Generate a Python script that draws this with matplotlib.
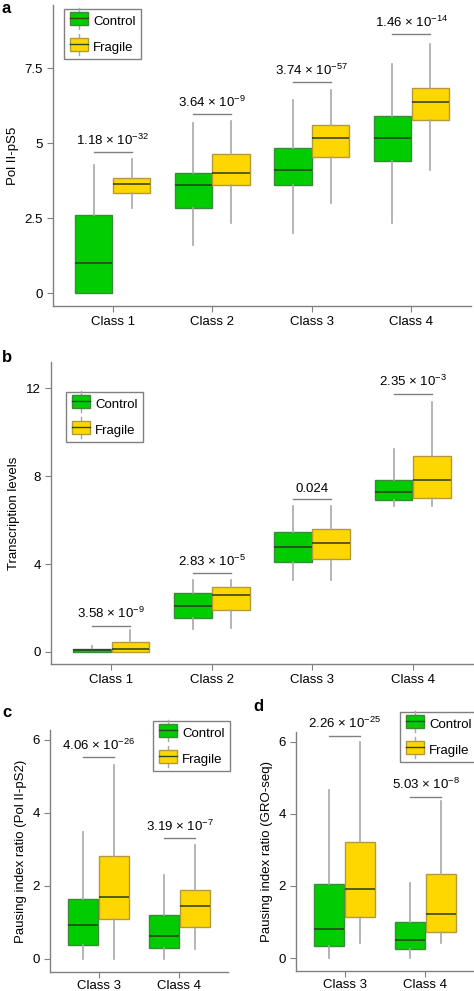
import matplotlib
matplotlib.use("Agg")
import matplotlib.pyplot as plt
from matplotlib.patches import Rectangle, Patch
from matplotlib.lines import Line2D
from matplotlib.legend_handler import HandlerBase

plt.rcParams['font.family'] = ['Liberation Sans', 'DejaVu Sans']
plt.rcParams['mathtext.fontset'] = 'custom'
plt.rcParams['mathtext.rm'] = 'Liberation Sans'
plt.rcParams['mathtext.it'] = 'Liberation Sans:italic'
plt.rcParams['font.size'] = 9.5

W, H = 474, 991

# box stats: (whisker low, q1, median, q3, whisker high)
classes_a = ["Class 1", "Class 2", "Class 3", "Class 4"]
ctrl_a = [(0.0, 0.0, 1.0, 2.6, 4.27), (1.6, 2.83, 3.6, 4.0, 5.67),
          (2.0, 3.6, 4.1, 4.83, 6.43), (2.33, 4.4, 5.17, 5.9, 7.63)]
frag_a = [(2.83, 3.33, 3.62, 3.83, 4.47), (2.33, 3.6, 4.0, 4.63, 5.75),
          (3.0, 4.53, 5.17, 5.6, 6.78), (4.1, 5.77, 6.37, 6.83, 8.3)]
pvals_a = ["1.18 × 10$^{-32}$", "3.64 × 10$^{-9}$", "3.74 × 10$^{-57}$", "1.46 × 10$^{-14}$"]
bracket_a = [4.7, 5.97, 7.03, 8.63]

classes_b = ["Class 1", "Class 2", "Class 3", "Class 4"]
ctrl_b = [(0.0, 0.0, 0.07, 0.12, 0.25), (1.03, 1.54, 2.1, 2.7, 3.28),
          (3.28, 4.08, 4.78, 5.46, 6.64), (6.64, 6.9, 7.28, 7.85, 9.25)]
frag_b = [(0.0, 0.0, 0.15, 0.45, 1.0), (1.09, 1.93, 2.57, 2.94, 3.28),
          (3.28, 4.23, 4.95, 5.6, 6.64), (6.64, 7.0, 7.85, 8.9, 11.4)]
pvals_b = ["3.58 × 10$^{-9}$", "2.83 × 10$^{-5}$", "0.024", "2.35 × 10$^{-3}$"]
bracket_b = [1.2, 3.6, 6.94, 11.76]

classes_cd = ["Class 3", "Class 4"]
ctrl_c = [(0.0, 0.37, 0.92, 1.63, 3.47), (0.0, 0.30, 0.62, 1.21, 2.31)]
frag_c = [(0.0, 1.08, 1.70, 2.81, 5.32), (0.27, 0.88, 1.44, 1.88, 3.13)]
pvals_c = ["4.06 × 10$^{-26}$", "3.19 × 10$^{-7}$"]
bracket_c = [5.53, 3.30]

ctrl_d = [(0.0, 0.34, 0.81, 2.06, 4.65), (0.0, 0.26, 0.50, 1.01, 2.08)]
frag_d = [(0.41, 1.15, 1.91, 3.23, 5.98), (0.41, 0.71, 1.23, 2.32, 4.36)]
pvals_d = ["2.26 × 10$^{-25}$", "5.03 × 10$^{-8}$"]
bracket_d = [6.17, 4.48]

GREEN, GREEN_EDGE = "#00CC00", "#3A8A3A"
GOLD, GOLD_EDGE = "#FFD700", "#B09A3A"
WHISK = "#A8A8A8"
SPINE = "#808080"
OFF = 0.19
BW = 0.375


def px_axes(fig, left, right, top, bottom):
    return fig.add_axes([left / W, (H - bottom) / H, (right - left) / W, (bottom - top) / H])


def stats_list(rows):
    return [dict(whislo=r[0], q1=r[1], med=r[2], q3=r[3], whishi=r[4], fliers=[]) for r in rows]


class BoxHandler(HandlerBase):
    def __init__(self, face, edge):
        super().__init__()
        self.face, self.edge = face, edge

    def create_artists(self, legend, orig, xd, yd, width, height, fontsize, trans):
        cx = xd + width / 2
        r = Rectangle((xd, yd - 0.1 * height), width, 1.2 * height, facecolor=self.face,
                      edgecolor=self.edge, lw=1, transform=trans)
        med = Line2D([xd, xd + width], [yd + height / 2] * 2, color="#2b4a1b", lw=1, transform=trans)
        w1 = Line2D([cx, cx], [yd + 1.1 * height, yd + 1.45 * height], color=WHISK, lw=1, transform=trans)
        w2 = Line2D([cx, cx], [yd - 0.1 * height, yd - 0.45 * height], color=WHISK, lw=1, transform=trans)
        return [w1, w2, r, med]


def draw_panel(ax, classes, ctrl, frag, pvals, brackets, ylim, yticks, yticklabels, ylabel):
    pos = list(range(1, len(classes) + 1))
    for rows, face, edge, sign in [(ctrl, GREEN, GREEN_EDGE, -1), (frag, GOLD, GOLD_EDGE, 1)]:
        ax.bxp(stats_list(rows), positions=[p + sign * OFF for p in pos], widths=BW,
               showfliers=False, showcaps=False, patch_artist=True,
               boxprops=dict(facecolor=face, edgecolor=edge, lw=1),
               medianprops=dict(color="#2b3a1b", lw=1.1),
               whiskerprops=dict(color=WHISK, lw=1.2))
    for p, y, t in zip(pos, brackets, pvals):
        ax.plot([p - OFF, p + OFF], [y, y], color=SPINE, lw=1)
        ax.annotate(t, (p, y), xytext=(0, 3), textcoords="offset points",
                    ha="center", va="bottom", fontsize=9.5)
    ax.set_xlim(0.4, len(classes) + 0.6)
    ax.set_ylim(*ylim)
    ax.set_xticks(pos)
    ax.set_xticklabels(classes)
    ax.set_yticks(yticks)
    ax.set_yticklabels(yticklabels)
    ax.set_ylabel(ylabel, fontsize=9.5, labelpad=4)
    for s in ["top", "right"]:
        ax.spines[s].set_visible(False)
    for s in ["left", "bottom"]:
        ax.spines[s].set_color(SPINE)
        ax.spines[s].set_linewidth(1)
    ax.tick_params(colors=SPINE, labelcolor="black", length=4, labelsize=9.5)


def add_legend(fig, ax, x, y):
    h1 = Patch(facecolor=GREEN)
    h2 = Patch(facecolor=GOLD)
    ax.legend([h1, h2], ["Control", "Fragile"], loc="upper left",
              bbox_to_anchor=(x / W, 1 - y / H), bbox_transform=fig.transFigure,
              handler_map={h1: BoxHandler(GREEN, GREEN_EDGE), h2: BoxHandler(GOLD, GOLD_EDGE)},
              fancybox=False, edgecolor=SPINE, framealpha=1, fontsize=9.5,
              handlelength=1.4, handleheight=0.9, handletextpad=0.4,
              labelspacing=1.0, borderpad=0.42, borderaxespad=0)


fig = plt.figure(figsize=(W / 100, H / 100), dpi=100)

ax_a = px_axes(fig, 53, 471, 5, 306)
draw_panel(ax_a, classes_a, ctrl_a, frag_a, pvals_a, bracket_a, (-0.43, 9.6),
           [0, 2.5, 5, 7.5], ["0", "2.5", "5", "7.5"], "Pol II-pS5")
add_legend(fig, ax_a, 64, 9)

ax_b = px_axes(fig, 51, 473, 362, 664)
draw_panel(ax_b, classes_b, ctrl_b, frag_b, pvals_b, bracket_b, (-0.55, 13.2),
           [0, 4, 8, 12], ["0", "4", "8", "12"], "Transcription levels")
add_legend(fig, ax_b, 66, 392)

ax_c = px_axes(fig, 50, 228, 730, 972)
draw_panel(ax_c, classes_cd, ctrl_c, frag_c, pvals_c, bracket_c, (-0.36, 6.27),
           [0, 2, 4, 6], ["0", "2", "4", "6"], "Pausing index ratio (Pol II-pS2)")
add_legend(fig, ax_c, 153, 721)

ax_d = px_axes(fig, 296, 474, 732, 971)
draw_panel(ax_d, classes_cd, ctrl_d, frag_d, pvals_d, bracket_d, (-0.36, 6.27),
           [0, 2, 4, 6], ["0", "2", "4", "6"], "Pausing index ratio (GRO-seq)")
add_legend(fig, ax_d, 400, 712)

for ax in (ax_c, ax_d):
    ax.tick_params(axis="x", pad=1.5)

for lab, x, y in [("a", 2, 13), ("b", 2, 362), ("c", 2, 717), ("d", 253, 711)]:
    fig.text(x / W, 1 - y / H, lab, fontsize=12, fontweight="bold", ha="left", va="baseline")

fig.savefig("out.png", dpi=100)
